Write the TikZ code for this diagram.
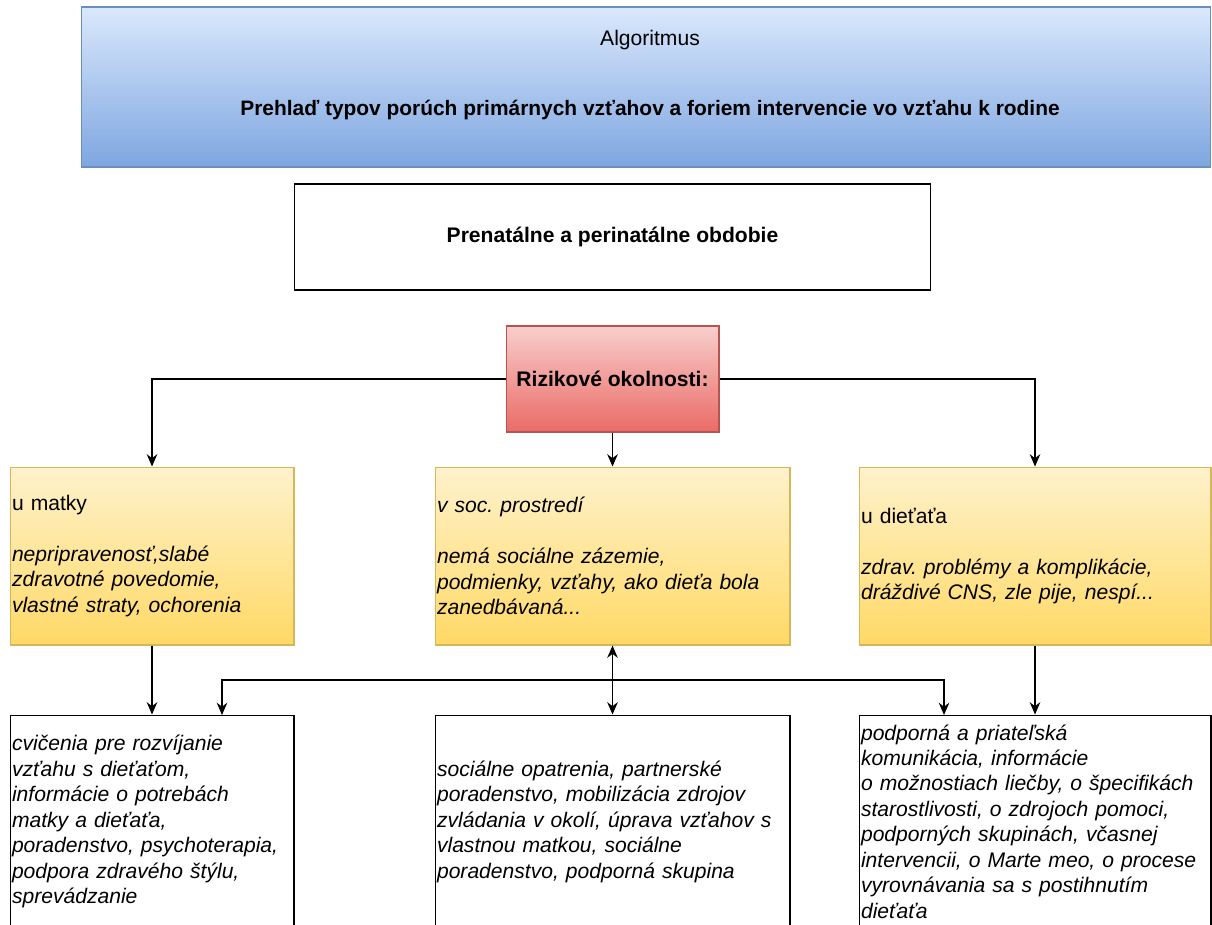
\documentclass[tikz,border=0pt]{standalone}
\usepackage{fontspec}
\setmainfont{Liberation Sans}
\usetikzlibrary{arrows.meta,positioning}
\frenchspacing

\definecolor{hdrtop}{HTML}{DAE8FC}
\definecolor{hdrbot}{HTML}{7EA6E0}
\definecolor{hdrline}{HTML}{6C8EBF}
\definecolor{risktop}{HTML}{F8CECC}
\definecolor{riskbot}{HTML}{EA6B66}
\definecolor{riskline}{HTML}{B85450}
\definecolor{factop}{HTML}{FFF2CC}
\definecolor{facbot}{HTML}{FFD966}
\definecolor{facline}{HTML}{D6B656}

\begin{document}
\begin{tikzpicture}[x=0.02cm, y=-0.02cm,
    font=\fontsize{12}{14.5}\selectfont,
    box/.style={draw, rectangle, inner sep=0pt, line width=0.6pt},
    hdrbox/.style={box, draw=hdrline, top color=hdrtop, bottom color=hdrbot,
      minimum width=22.6cm, minimum height=3.2cm},
    periodbox/.style={box, minimum width=12.74cm, minimum height=2.12cm,
      font=\fontsize{12}{14.5}\selectfont\bfseries},
    riskbox/.style={box, draw=riskline, top color=risktop, bottom color=riskbot,
      minimum width=4.26cm, minimum height=2.12cm,
      font=\fontsize{12}{14.5}\selectfont\bfseries},
    factbox/.style={box, draw=facline, top color=factop, bottom color=facbot,
      minimum height=3.56cm, inner xsep=0.04cm, align=left},
    helpbox/.style={box, fill=white, minimum height=4.26cm, inner xsep=0.04cm,
      align=left, font=\fontsize{12}{14.5}\selectfont\itshape},
    flow/.style={-{Stealth[length=7pt,width=6pt]}, line width=0.9pt},
    both/.style={{Stealth[length=7pt,width=6pt]}-{Stealth[length=7pt,width=6pt]},
      line width=0.9pt}]
  \useasboundingbox (0,0) rectangle (1212,924);

  % header
  \node[hdrbox] (algo) at (646,87) {};
  \node (algoname) at (650,40) {Algoritmus};
  \node[font=\fontsize{11.9}{14.5}\selectfont\bfseries] (algotitle) at (650,110)
    {Prehlaď typov porúch primárnych vzťahov a foriem intervencie vo vzťahu k rodine};

  \node[periodbox] (period) at (612.5,237) {Prenatálne a perinatálne obdobie};
  \node[riskbox] (risk) at (612.5,379) {Rizikové okolnosti:};

  % risk factors
  \node[factbox, minimum width=5.68cm, text width=5.6cm] (matka) at (152,556)
    {u matky\\[14.5pt]
     \textit{nepripravenosť,slabé}\\
     \textit{zdravotné povedomie,}\\
     \textit{vlastné straty, ochorenia}};
  \node[factbox, minimum width=7.1cm, text width=7.02cm] (prostr) at (612.5,556)
    {\textit{v soc. prostredí}\\[14.5pt]
     \textit{nemá sociálne zázemie,}\\
     \textit{podmienky, vzťahy, ako dieťa bola}\\
     \textit{zanedbávaná...}};
  \node[factbox, minimum width=7.04cm, text width=6.96cm] (dieta) at (1035,556)
    {u dieťaťa\\[14.5pt]
     \textit{zdrav. problémy a komplikácie,}\\
     \textit{dráždivé CNS, zle pije, nespí...}};

  % interventions
  \node[helpbox, minimum width=5.68cm, text width=5.6cm] (cvic) at (152,821.5)
    {cvičenia pre rozvíjanie\\
     vzťahu s dieťaťom,\\
     informácie o potrebách\\
     matky a dieťaťa,\\
     poradenstvo, psychoterapia,\\
     podpora zdravého štýlu,\\
     sprevádzanie};
  \node[helpbox, minimum width=7.1cm, text width=7.02cm] (social) at (612.5,821.5)
    {sociálne opatrenia, partnerské\\
     poradenstvo, mobilizácia zdrojov\\
     zvládania v okolí, úprava vzťahov s\\
     vlastnou matkou, sociálne\\
     poradenstvo, podporná skupina};
  \node[helpbox, minimum width=7.04cm, text width=6.96cm] (podpora) at (1035,821.5)
    {podporná a priateľská\\
     komunikácia, informácie\\
     o možnostiach liečby, o špecifikách\\
     starostlivosti, o zdrojoch pomoci,\\
     podporných skupinách, včasnej\\
     intervencii, o Marte meo, o procese\\
     vyrovnávania sa s postihnutím\\
     dieťaťa};

  \coordinate (hub) at (612.5,680);
  \coordinate (inL) at (222,715);
  \coordinate (inR) at (944,715);

  \draw[flow] (risk.west) -| (matka.north);
  \draw[flow] (risk.east) -| (dieta.north);
  \draw[flow] (risk.south) -- (prostr.north);
  \draw[flow] (matka.south) -- (cvic.north);
  \draw[flow] (dieta.south) -- (podpora.north);
  \draw[both] (prostr.south) -- (social.north);
  \draw[flow] (hub) -| (inL);
  \draw[flow] (hub) -| (inR);
\end{tikzpicture}
\end{document}
